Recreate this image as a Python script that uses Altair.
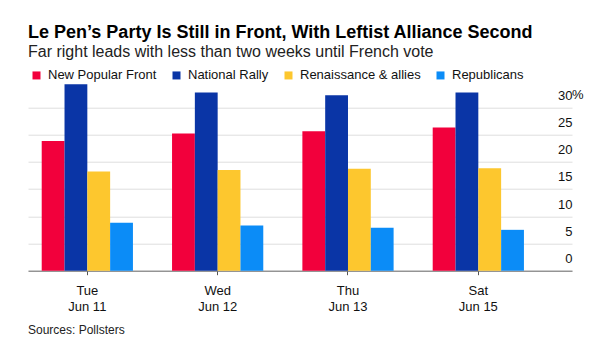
import altair as alt
import pandas as pd

dates = ["Tue|Jun 11", "Wed|Jun 12", "Thu|Jun 13", "Sat|Jun 15"]
parties = ["New Popular Front", "National Rally", "Renaissance & allies", "Republicans"]
colors = ["#F2003C", "#0A35A6", "#FDC72E", "#0B8CF7"]
new_popular_front = [23.8, 25.2, 25.6, 26.3]
national_rally = [34.2, 32.7, 32.2, 32.7]
renaissance = [18.2, 18.5, 18.7, 18.8]
republicans = [8.8, 8.3, 7.9, 7.5]
y_ticks = [0, 5, 10, 15, 20, 25, 30]

series = [new_popular_front, national_rally, renaissance, republicans]
rows = []
for p, vals in zip(parties, series):
    for d, v in zip(dates, vals):
        rows.append({"date": d, "party": p, "value": v})
df = pd.DataFrame(rows)

FONT = "Liberation Sans"
W, H = 544, 188

y_scale = alt.Scale(domain=[0, 34.5], nice=False)
y_axis = alt.Axis(title=None, orient="right", values=y_ticks, grid=True,
                  gridColor="#DEDEDE", domain=False, ticks=False, tickSize=0,
                  labelAlign="right", labelPadding=0, labelBaseline="alphabetic",
                  labelOffset=-8, labelFontSize=13, labelColor="#111111",
                  labelFont=FONT, labelOverlap=False, labelBound=False)

bars = alt.Chart(df).mark_bar().encode(
    x=alt.X("date:N", sort=dates,
            scale=alt.Scale(paddingInner=0.3, paddingOuter=0.237, align=0.222),
            axis=alt.Axis(title=None, labelAngle=0, labelExpr="split(datum.label, '|')",
                          labelFontSize=13, labelLineHeight=16, labelPadding=10,
                          tickSize=4, tickColor="#555555", domainColor="#6e6e6e",
                          labelColor="#111111", labelFont=FONT, grid=False)),
    xOffset=alt.XOffset("party:N", sort=parties, scale=alt.Scale(paddingInner=0, paddingOuter=0)),
    y=alt.Y("value:Q", scale=y_scale, axis=y_axis),
    color=alt.Color("party:N", scale=alt.Scale(domain=parties, range=colors),
                    legend=alt.Legend(title=None, orient="none", legendX=2, legendY=-14,
                                      direction="horizontal", columns=4, symbolType="square",
                                      symbolSize=64, symbolStrokeWidth=0, labelFontSize=13,
                                      labelFont=FONT, labelColor="#111111", labelOffset=5,
                                      columnPadding=13, padding=0)),
)

one = alt.Data(values=[{"k": 1}])

pct = alt.Chart(one).mark_text(align="left", baseline="alphabetic", dy=-8, fontSize=13,
                                font=FONT, color="#111111").encode(
    x=alt.value(W), y=alt.YDatum(30, axis=None), text=alt.value("%"))

source = alt.Chart(one).mark_text(align="left", baseline="alphabetic", fontSize=12,
                                   font=FONT, color="#222222").encode(
    x=alt.value(0), y=alt.value(251.5), text=alt.value("Sources: Pollsters"))

chart = alt.layer(bars, pct, source).resolve_axis(y="independent").properties(
    width=W, height=H,
    background="white",
    autosize=alt.AutoSizeParams(type="none"),
    padding={"left": 28, "top": 82.7, "right": 42, "bottom": 80.3},
    title=alt.TitleParams(
        text="Le Pen’s Party Is Still in Front, With Leftist Alliance Second",
        subtitle="Far right leads with less than two weeks until French vote",
        anchor="start", frame="group", font=FONT, fontSize=18, fontWeight="bold",
        color="#000000", subtitleFont=FONT, subtitleFontSize=16, subtitleColor="#222222",
        subtitlePadding=2, offset=9),
).configure_view(stroke="transparent", strokeOpacity=0, strokeWidth=0)

chart.save("out.html", embed_options={"renderer": "svg", "actions": False})
